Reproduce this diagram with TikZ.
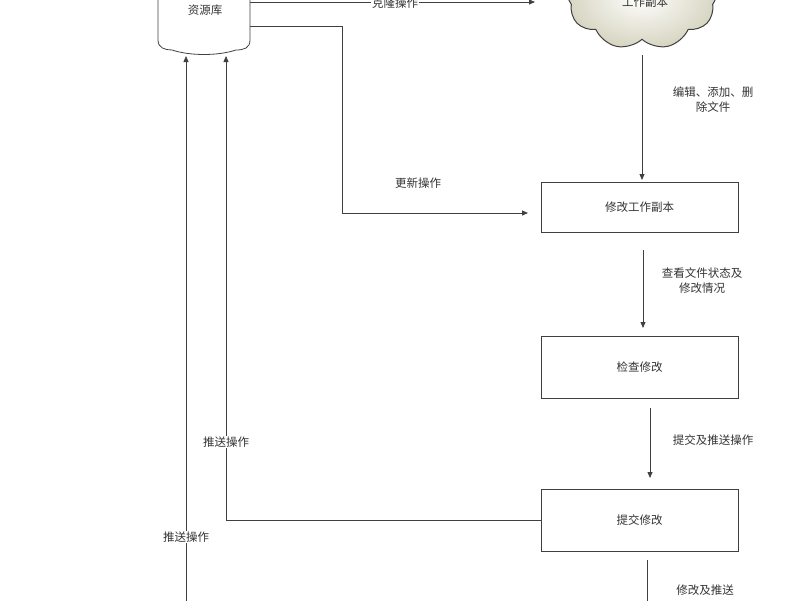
\documentclass[tikz,border=0pt]{standalone}
\usepackage{fontspec}
\setmainfont{Noto Sans CJK SC}
\usetikzlibrary{arrows.meta,shapes.symbols}
\begin{document}
\begin{tikzpicture}[x=1pt,y=-1pt,
  ln/.style={draw=black!75,line width=0.8pt},
  arr/.style={ln,-{Triangle[length=6pt,width=5pt]}},
  box/.style={draw=black!75,line width=0.8pt,minimum width=197pt,minimum height=50pt,font=\fontsize{11.5}{14}\selectfont,text=black!80},
  lbl/.style={font=\fontsize{11.5}{15}\selectfont,text=black!80,align=center},
  wl/.style={lbl,fill=white,inner sep=1pt}]
\useasboundingbox (0,0) rectangle (800,600);
\clip (0,0) rectangle (800,600);
% repository
\path[ln,fill=white] (158,-40) -- (158,40) .. controls (158,48) and (165,50) .. (172,50)
  .. controls (190,56) and (218,56) .. (236,50) .. controls (244,50) and (250,48) .. (250,40) -- (250,-40);
\node[lbl] (repo) at (205,10) {资源库};
\coordinate (repoR) at (250,2);
% cloud
\node[cloud,cloud puffs=9,cloud puff arc=110,draw=black!75,line width=1pt,inner color=white,outer color=brown!30!yellow!25!gray!40,
  minimum width=150pt,minimum height=105pt,aspect=1.4] (wc) at (642,-3) {};
\node[lbl] at (645,2) {工作副本};
% boxes
\node[box] (b1) at (639.5,207) {修改工作副本};
\node[box,minimum height=62pt] (b2) at (639.5,367) {检查修改};
\node[box,minimum height=62pt] (b3) at (639.5,520) {提交修改};
% clone
\coordinate (cl) at (535,2);
\draw[arr] (repoR) -- (cl);
\node[wl] at (395,3) {克隆操作};
% update
\coordinate (u0) at (250,26);
\coordinate (u1) at (528,213);
\draw[arr] (u0) -- (342,26) -- (342,213) -- (u1);
\node[lbl] at (418,183) {更新操作};
% cloud -> b1
\coordinate (c0) at (642,55);
\draw[arr] (c0) -- (642,180);
\node[lbl] at (713,100) {编辑、添加、删\\除文件};
% b1 -> b2
\coordinate (d0) at (643,250);
\coordinate (d1) at (643,328);
\draw[arr] (d0) -- (d1);
\node[lbl] at (702,281) {查看文件状态及\\修改情况};
% b2 -> b3
\coordinate (e0) at (650,408);
\coordinate (e1) at (650,478);
\draw[arr] (e0) -- (e1);
\node[lbl] at (713,440) {提交及推送操作};
% b3 -> repo
\coordinate (p1) at (226,56);
\draw[arr] (b3.west) -- (226,520) -- (p1);
\node[wl] at (226,442) {推送操作};
% far push
\coordinate (q0) at (186,610);
\coordinate (q1) at (186,56);
\draw[arr] (q0) -- (q1);
\node[wl] at (186,537) {推送操作};
% bottom
\coordinate (f0) at (647,560);
\coordinate (f1) at (647,610);
\draw[ln] (f0) -- (f1);
\node[lbl] at (705,590) {修改及推送};
\end{tikzpicture}
\end{document}
